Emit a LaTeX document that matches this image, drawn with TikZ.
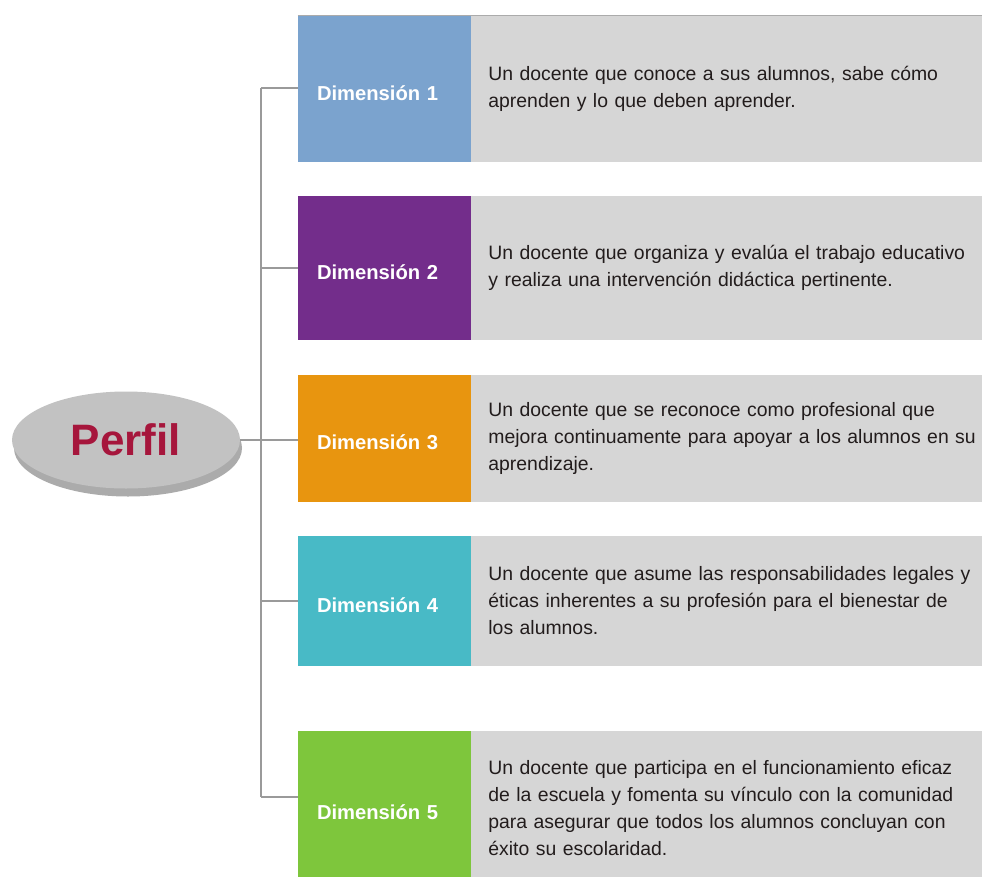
\documentclass[tikz,border=0pt]{standalone}
\usepackage{fontspec}
\setmainfont{Liberation Sans}
\usetikzlibrary{shapes.geometric,shadows}
\definecolor{cone}{HTML}{7BA3CE}
\definecolor{ctwo}{HTML}{732D8B}
\definecolor{cthree}{HTML}{E8950F}
\definecolor{cfour}{HTML}{48BAC6}
\definecolor{cfive}{HTML}{7EC63C}
\definecolor{descgray}{HTML}{D6D6D6}
\definecolor{perfilred}{HTML}{A6163C}
\definecolor{ellgray}{HTML}{C2C2C2}
\definecolor{shadowgray}{HTML}{ABABAB}
\definecolor{conngray}{HTML}{9A9A9A}
\definecolor{desctext}{HTML}{221C1C}
\begin{document}
\begin{tikzpicture}[x=1pt,y=-1pt,
  dimbox/.style={rectangle, minimum width=173pt, text width=135pt, inner xsep=19pt, inner ysep=0pt,
    align=left, text=white, font=\fontsize{20.2}{22}\selectfont\bfseries, text height=23pt},
  descbox/.style={rectangle, fill=descgray, anchor=west, text width=497pt, inner xsep=17pt, inner ysep=0pt,
    align=left, text=desctext, font=\fontsize{19.4}{27}\selectfont},
  conn/.style={draw=conngray, line width=1.6pt},
  ellnode/.style={ellipse, fill=ellgray, minimum width=228pt, minimum height=97pt, inner sep=0pt,
    text=perfilred, font=\fontsize{44}{50}\selectfont\bfseries,
    drop shadow={shadow xshift=2pt, shadow yshift=-8pt, fill=shadowgray, opacity=1}}
]
\useasboundingbox (0,0) rectangle (982,876);
\fill[white] (0,0) rectangle (982,876);

% colored dimension boxes
\node[dimbox, fill=cone, minimum height=146pt] (d1) at (384.5,89) {Dimensión 1};
\node[dimbox, fill=ctwo, minimum height=144pt] (d2) at (384.5,268) {Dimensión 2};
\node[dimbox, fill=cthree, minimum height=127pt] (d3) at (384.5,438.5) {Dimensión 3};
\node[dimbox, fill=cfour, minimum height=130pt] (d4) at (384.5,601) {Dimensión 4};
\node[dimbox, fill=cfive, minimum height=155pt] (d5) at (384.5,808.5) {Dimensión 5};

% description boxes
\node[descbox, minimum height=146pt] (g1) at (d1.east) {Un docente que conoce a sus alumnos, sabe cómo\\aprenden y lo que deben aprender.};
\node[descbox, minimum height=144pt] (g2) at (d2.east) {Un docente que organiza y evalúa el trabajo educativo\\y realiza una intervención didáctica pertinente.};
\node[descbox, minimum height=127pt] (g3) at (d3.east) {Un docente que se reconoce como profesional que\\mejora continuamente para apoyar a los alumnos en su\\aprendizaje.};
\node[descbox, minimum height=130pt] (g4) at (d4.east) {Un docente que asume las responsabilidades legales y\\éticas inherentes a su profesión para el bienestar de\\los alumnos.};
\node[descbox, minimum height=155pt] (g5) at (d5.east) {Un docente que participa en el funcionamiento eficaz\\de la escuela y fomenta su vínculo con la comunidad\\para asegurar que todos los alumnos concluyan con\\éxito su escolaridad.};

\draw[draw=shadowgray, line width=1pt] (d1.north west) -- (g1.north east);

% central ellipse
\node[ellnode] (perfil) at (126,440) {Perfil};

% connectors
\coordinate (trtop) at (261,88);
\coordinate (trbot) at (261,797);
\coordinate (k5) at (d5.west |- trbot);
\draw[conn] (trtop) -- (trbot);
\draw[conn] (trtop) -- (d1.west |- trtop);
\draw[conn] (d2.west -| trtop) -- (d2.west);
\draw[conn] (d4.west -| trtop) -- (d4.west);
\draw[conn] (trbot) -- (k5);
\draw[conn] (perfil.east) -- (perfil.east -| d3.west);
\end{tikzpicture}
\end{document}
